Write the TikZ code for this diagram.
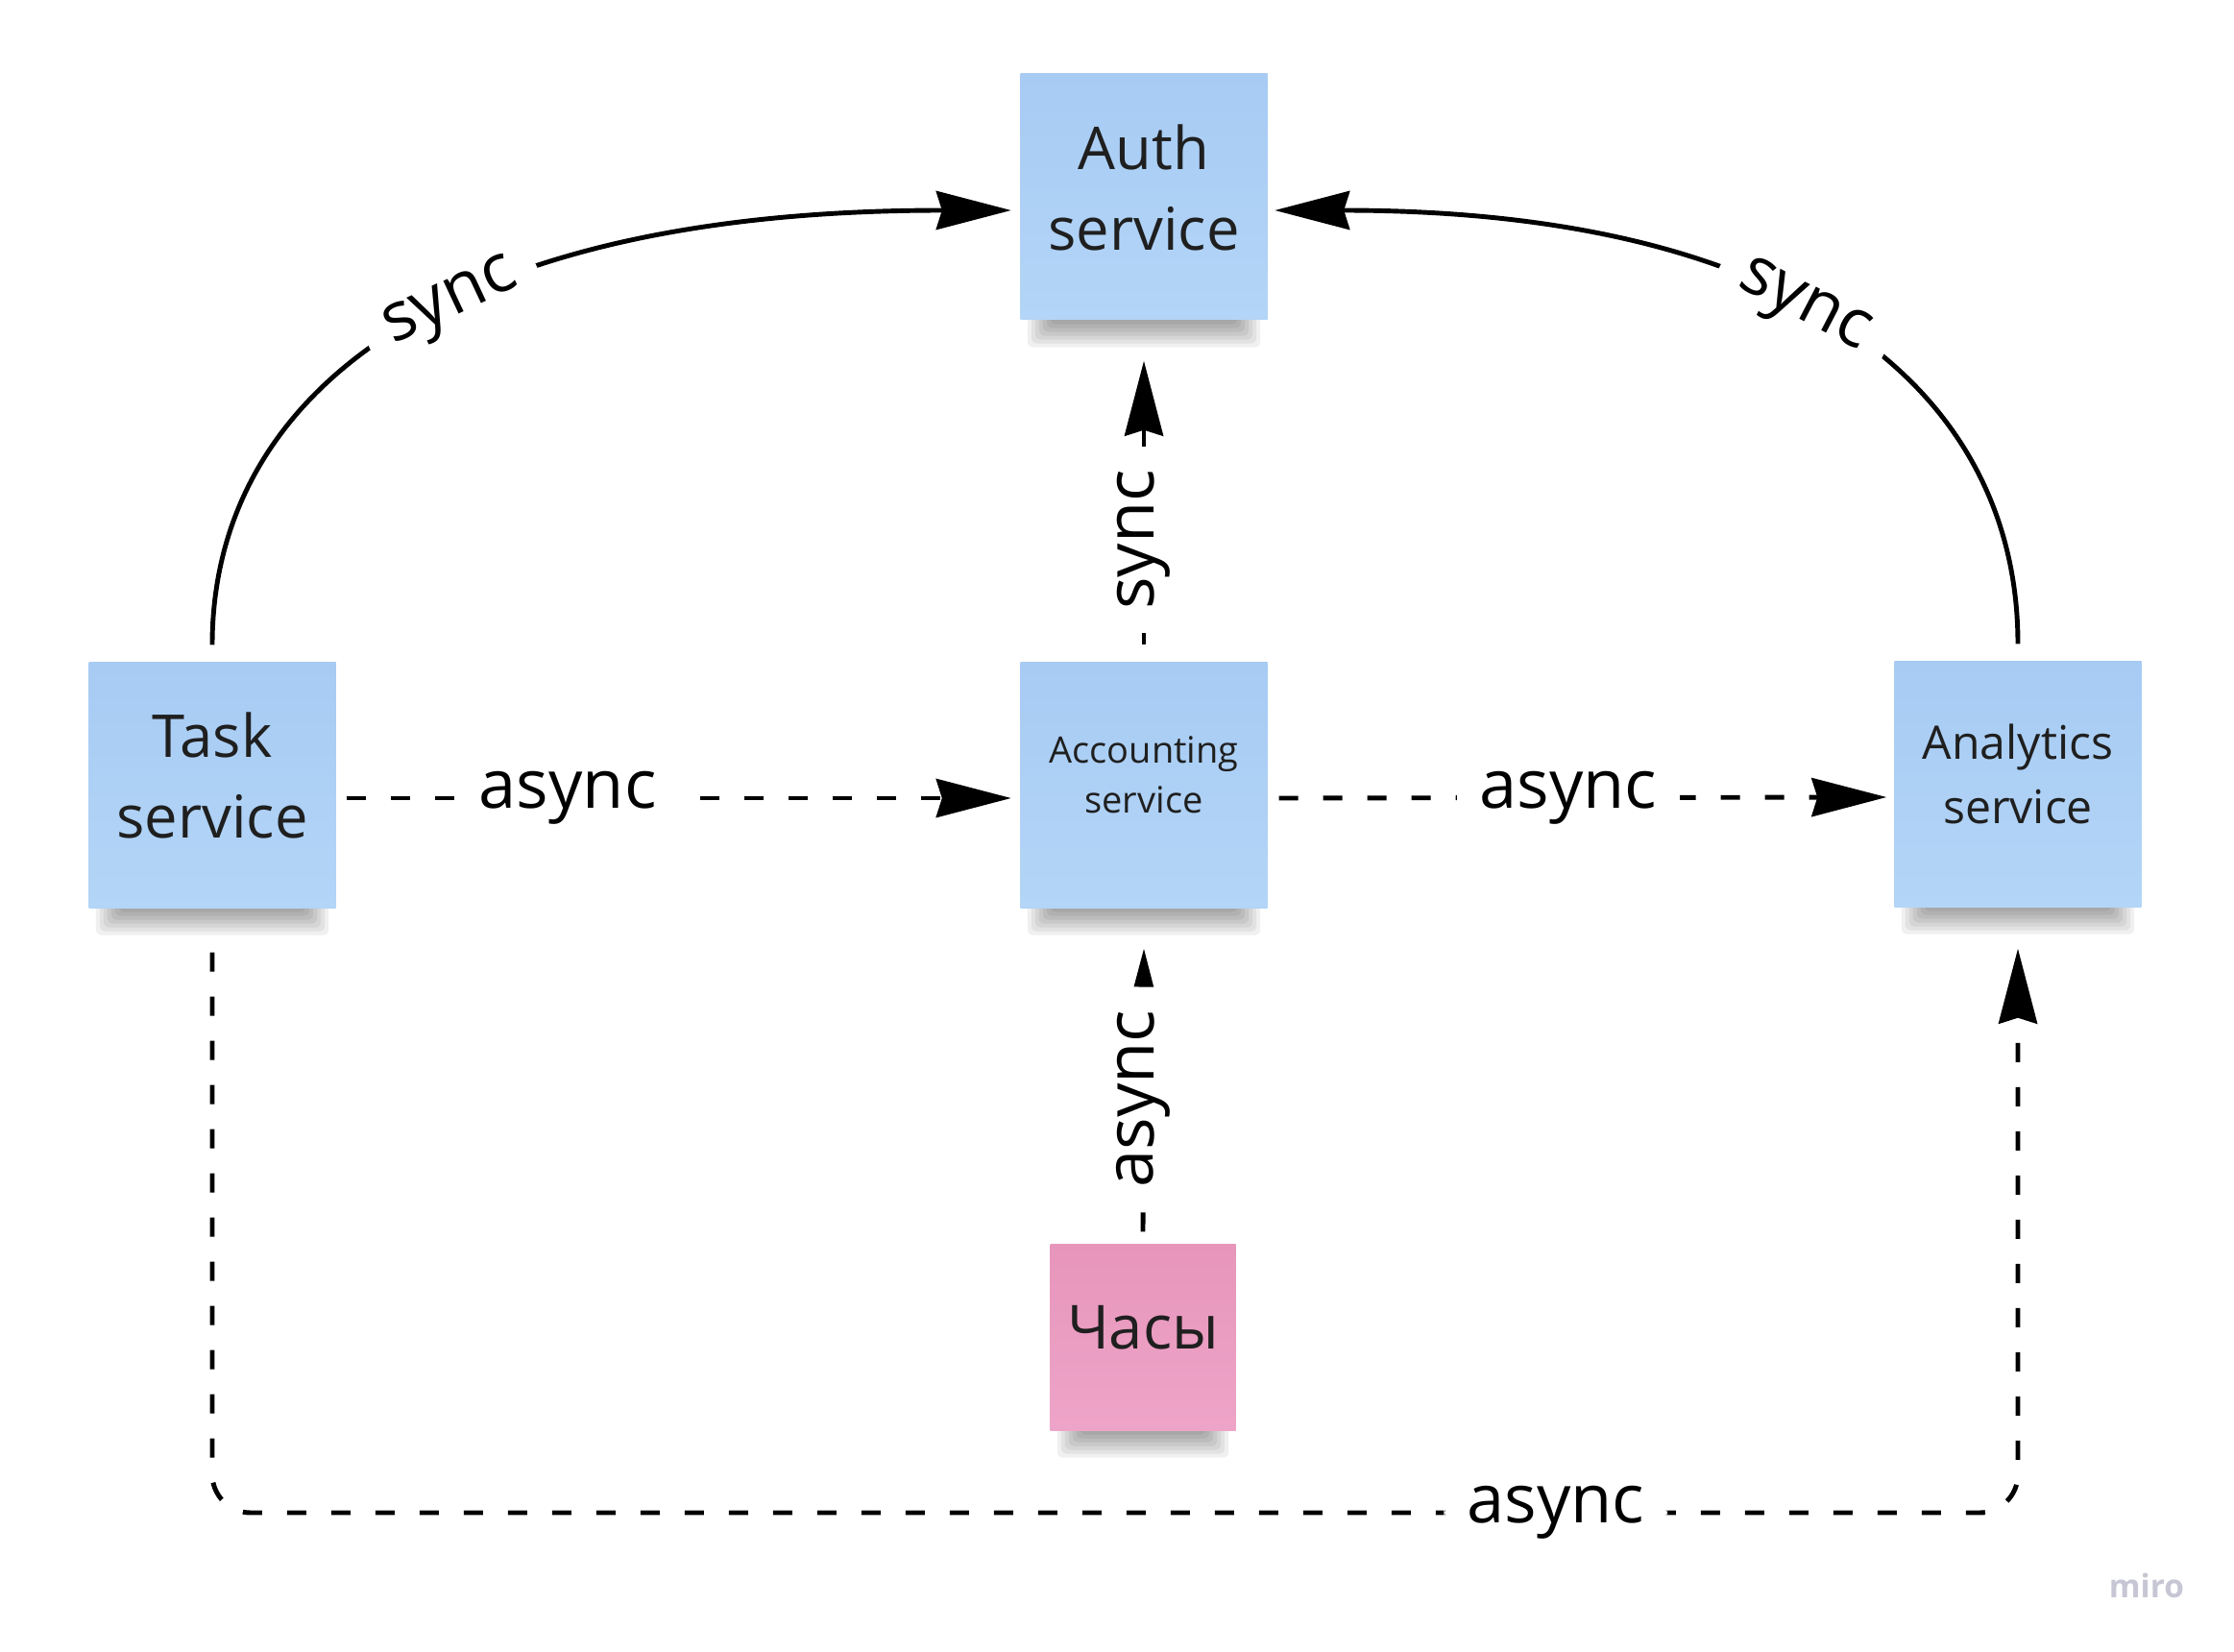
\documentclass[tikz,border=0pt]{standalone}
\usepackage{fontspec}
\setmainfont{Open Sans}
\usepackage{xcolor}
\usepackage{tikz}
\usetikzlibrary{arrows.meta, backgrounds}
\definecolor{noteblue}{HTML}{A7CBF3}
\definecolor{notebluelow}{HTML}{B3D5F7}
\definecolor{notepink}{HTML}{E795BB}
\definecolor{notepinklow}{HTML}{EEA4C8}
\definecolor{mirogray}{HTML}{C6C6D4}

\tikzset{
    note/.style={minimum width=2.57cm, minimum height=2.56cm, inner sep=0pt,
        top color=noteblue, bottom color=notebluelow, align=center, text=black!88,
        execute at end node={\rule[-2mm]{0pt}{0pt}}},
    pinknote/.style={note, minimum width=1.93cm, minimum height=1.94cm,
        top color=notepink, bottom color=notepinklow},
    shadowlayer/.style={fill=black, opacity=0.06, rounded corners=0.6mm},
    link/.style={line width=1.4pt, -{Stealth[length=7.8mm, width=4mm, inset=0.6mm]}},
    asynclink/.style={link, dash pattern=on 2mm off 2.6mm},
    lbl/.style={fill=white, inner xsep=2.4mm, inner ysep=0.4mm,
        font=\fontsize{20}{24}\selectfont},
}

\begin{document}
\begin{tikzpicture}
    \useasboundingbox (0,0) rectangle (23.26,17.19);

    % sticky notes
    \node[note, font=\fontsize{17.5}{24}\selectfont] (auth) at (11.91,15.14) {Auth\\service};
    \node[note, font=\fontsize{17.5}{24}\selectfont] (task) at (2.21,9.02) {Task\\service};
    \node[note, font=\fontsize{10.8}{14.8}\selectfont] (acct) at (11.91,9.02) {Accounting\\service};
    \node[note, font=\fontsize{13.7}{19}\selectfont] (ana) at (21.01,9.03) {Analytics\\service};
    \node[pinknote, font=\fontsize{18}{24}\selectfont] (clock) at (11.90,3.27) {Часы};

    % soft shadows under the notes
    \begin{scope}[on background layer]
        \foreach \n in {auth, task, acct, ana, clock}
            \foreach \shin/\shdp in {3.2mm/0.4mm, 2.8mm/0.8mm, 2.4mm/1.2mm, 2mm/1.6mm,
                                     1.6mm/2mm, 1.2mm/2.4mm, 0.8mm/2.8mm}
                \fill[shadowlayer] ([xshift=\shin, yshift=1mm]\n.south west) rectangle
                    ([xshift=-\shin, yshift=-\shdp]\n.south east);
    \end{scope}

    % sync calls to auth
    \draw[link] ([yshift=1.7mm]task.north) .. controls +(0,2.53) and +(-6.03,0) ..
        ([xshift=-0.9mm, yshift=-1.4mm]auth.west) node[lbl, pos=0.57, sloped]{sync};
    \draw[link] ([yshift=1.7mm]ana.north) .. controls +(0,2.53) and +(5.6,0) ..
        ([xshift=0.7mm, yshift=-1.4mm]auth.east) node[lbl, pos=0.56, sloped]{sync};
    \draw[link] ([yshift=1.7mm]acct.north) -- node[lbl, pos=0.37, sloped]{sync}
        ([yshift=-4.2mm]auth.south);

    % async events
    \draw[asynclink] ([xshift=1.05mm, yshift=-1.4mm]task.east) -- node[lbl, pos=0.333]{async}
        ([xshift=-0.9mm, yshift=-1.4mm]acct.west);
    \draw[asynclink] ([xshift=1.15mm, yshift=-1.4mm]acct.east) -- node[lbl, pos=0.476]{async}
        ([xshift=-0.75mm, yshift=-1.4mm]ana.west);
    \draw[asynclink] ([yshift=1.2mm]clock.north) -- node[lbl, pos=0.47, sloped]{async}
        ([yshift=-4.2mm]acct.south);

    \coordinate (botleft) at (2.21,1.44);
    \coordinate (botright) at (21.01,1.44);
    \draw[asynclink, rounded corners=4mm] ([yshift=-4.6mm]task.south) -- (botleft)
        -- node[lbl, pos=0.744]{async} (botright) -- ([yshift=-4.3mm]ana.south);

    \node[text=mirogray, font=\bfseries\fontsize{9.5}{11}\selectfont] (miro) at (22.35,0.68) {miro};
\end{tikzpicture}
\end{document}
